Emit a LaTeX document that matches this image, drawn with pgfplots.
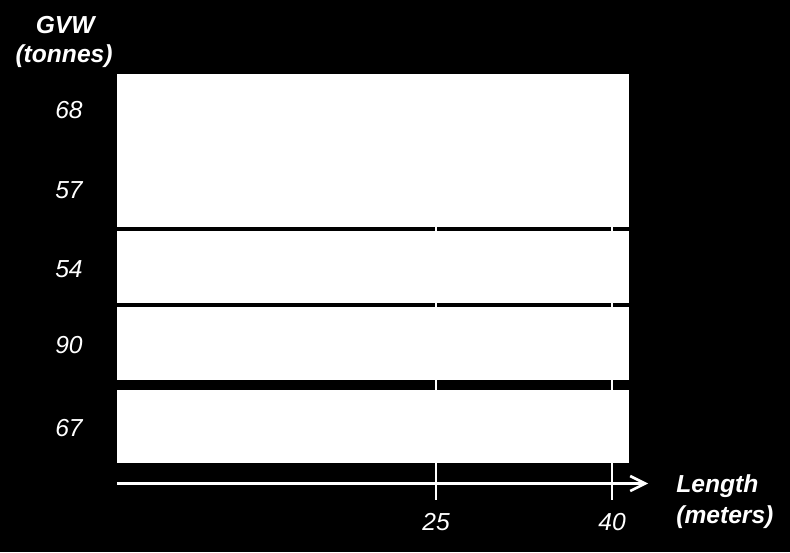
\documentclass[border=0pt]{standalone}
\usepackage{fontspec}
\setmainfont{Liberation Sans}
\usepackage{pgfplots}
\pgfplotsset{compat=1.18}
\usetikzlibrary{arrows.meta}

\begin{document}
\begin{tikzpicture}[font=\fontsize{12.3}{14.5}\selectfont]
\fill[black] (0,0) rectangle (395pt,276pt);
\begin{axis}[
    scale only axis,
    width=395pt,
    height=276pt,
    at={(0,0)},
    anchor=south west,
    xmin=-12.159, xmax=55.17,
    ymin=0, ymax=552,
    y dir=reverse,
    hide axis,
    clip=false
]
% tick lines behind the bands
\addplot[white, line width=1pt] coordinates {(25,227) (25,500)};
\addplot[white, line width=1pt] coordinates {(40,227) (40,500)};

% bands
\addplot[fill=white, draw=none] coordinates {(-2.19,74) (41.45,74) (41.45,227) (-2.19,227)} -- cycle;
\addplot[fill=white, draw=none] coordinates {(-2.19,231) (41.45,231) (41.45,303) (-2.19,303)} -- cycle;
\addplot[fill=white, draw=none] coordinates {(-2.19,307) (41.45,307) (41.45,380) (-2.19,380)} -- cycle;
\addplot[fill=white, draw=none] coordinates {(-2.19,390) (41.45,390) (41.45,463) (-2.19,463)} -- cycle;

% length axis arrow
\addplot[white, line width=1.3pt, -{Straight Barb[length=7.5pt,width=7.5pt]}]
    coordinates {(-2.19,483.5) (43.07,483.5)};

% GVW values and length ticks
\addplot[draw=none, nodes near coords, point meta=explicit symbolic,
    every node near coord/.append style={anchor=base, text=white,
        font=\fontsize{12.3}{14.5}\selectfont\itshape}]
    coordinates {(-6.28,118)[68] (-6.28,198)[57] (-6.28,277)[54]
                 (-6.28,353)[90] (-6.28,436)[67] (25,530)[25] (40,530)[40]};

\node[anchor=base, text=white, font=\fontsize{12.3}{14.5}\selectfont\bfseries\itshape] at (axis cs:-6.6,33) {GVW};
\node[anchor=base, text=white, font=\fontsize{12.3}{14.5}\selectfont\bfseries\itshape] at (axis cs:-6.7,62) {(tonnes)};
\node[anchor=base west, inner sep=0pt, text=white, font=\fontsize{12.3}{14.5}\selectfont\bfseries\itshape] at (axis cs:45.45,492) {Length};
\node[anchor=base west, inner sep=0pt, text=white, font=\fontsize{12.3}{14.5}\selectfont\bfseries\itshape] at (axis cs:45.45,523) {(meters)};
\end{axis}
\end{tikzpicture}
\end{document}
